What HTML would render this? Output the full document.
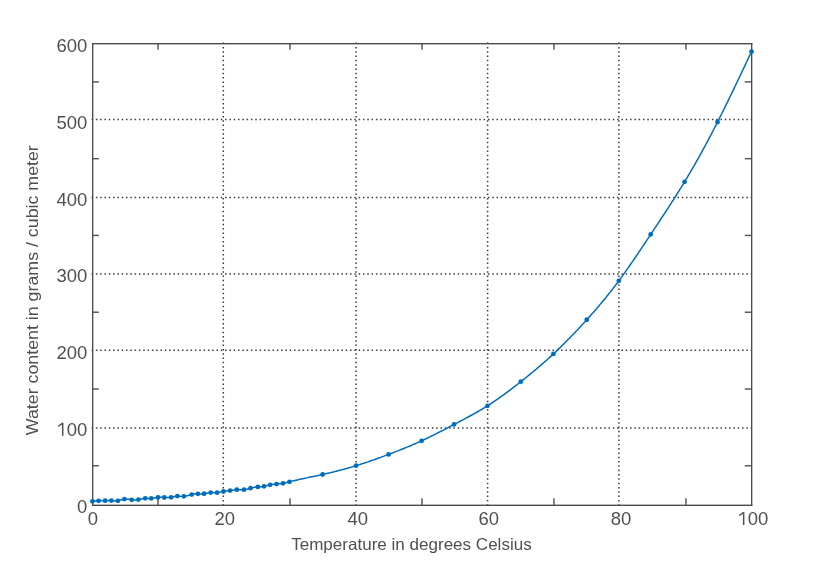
<!DOCTYPE html>
<html><head><meta charset="utf-8"><style>html,body{margin:0;padding:0;background:#fff;width:828px;height:580px;overflow:hidden}svg{display:block;will-change:transform}</style></head>
<body><svg width="828" height="580" viewBox="0 0 828 580">
<rect width="828" height="580" fill="#fff"/>
<line x1="223.3" y1="42.600" x2="223.3" y2="505" stroke="#3c3c3c" stroke-width="1.5" stroke-dasharray="1.5 2.814"/>
<line x1="356.1" y1="42.600" x2="356.1" y2="505" stroke="#3c3c3c" stroke-width="1.5" stroke-dasharray="1.5 2.814"/>
<line x1="487.6" y1="42.600" x2="487.6" y2="505" stroke="#3c3c3c" stroke-width="1.5" stroke-dasharray="1.5 2.814"/>
<line x1="618.9" y1="42.600" x2="618.9" y2="505" stroke="#3c3c3c" stroke-width="1.5" stroke-dasharray="1.5 2.814"/>
<line x1="91.550" y1="119.5" x2="752" y2="119.5" stroke="#3c3c3c" stroke-width="1.5" stroke-dasharray="1.5 2.808"/>
<line x1="91.550" y1="197.4" x2="752" y2="197.4" stroke="#3c3c3c" stroke-width="1.5" stroke-dasharray="1.5 2.808"/>
<line x1="91.550" y1="274.0" x2="752" y2="274.0" stroke="#3c3c3c" stroke-width="1.5" stroke-dasharray="1.5 2.808"/>
<line x1="91.550" y1="350.2" x2="752" y2="350.2" stroke="#3c3c3c" stroke-width="1.5" stroke-dasharray="1.5 2.808"/>
<line x1="91.550" y1="428.0" x2="752" y2="428.0" stroke="#3c3c3c" stroke-width="1.5" stroke-dasharray="1.5 2.808"/>
<line x1="158.05" y1="505" x2="158.05" y2="498.2" stroke="#555555" stroke-width="1.45"/>
<line x1="158.05" y1="43.5" x2="158.05" y2="49.8" stroke="#555555" stroke-width="1.45"/>
<line x1="290.02" y1="505" x2="290.02" y2="498.2" stroke="#555555" stroke-width="1.45"/>
<line x1="290.02" y1="43.5" x2="290.02" y2="49.8" stroke="#555555" stroke-width="1.45"/>
<line x1="421.99" y1="505" x2="421.99" y2="498.2" stroke="#555555" stroke-width="1.45"/>
<line x1="421.99" y1="43.5" x2="421.99" y2="49.8" stroke="#555555" stroke-width="1.45"/>
<line x1="553.96" y1="505" x2="553.96" y2="498.2" stroke="#555555" stroke-width="1.45"/>
<line x1="553.96" y1="43.5" x2="553.96" y2="49.8" stroke="#555555" stroke-width="1.45"/>
<line x1="685.93" y1="505" x2="685.93" y2="498.2" stroke="#555555" stroke-width="1.45"/>
<line x1="685.93" y1="43.5" x2="685.93" y2="49.8" stroke="#555555" stroke-width="1.45"/>
<line x1="92.5" y1="465.76" x2="98.9" y2="465.76" stroke="#555555" stroke-width="1.45"/>
<line x1="751.5" y1="465.76" x2="744.7" y2="465.76" stroke="#555555" stroke-width="1.45"/>
<line x1="92.5" y1="389.00" x2="98.9" y2="389.00" stroke="#555555" stroke-width="1.45"/>
<line x1="751.5" y1="389.00" x2="744.7" y2="389.00" stroke="#555555" stroke-width="1.45"/>
<line x1="92.5" y1="312.22" x2="98.9" y2="312.22" stroke="#555555" stroke-width="1.45"/>
<line x1="751.5" y1="312.22" x2="744.7" y2="312.22" stroke="#555555" stroke-width="1.45"/>
<line x1="92.5" y1="235.45" x2="98.9" y2="235.45" stroke="#555555" stroke-width="1.45"/>
<line x1="751.5" y1="235.45" x2="744.7" y2="235.45" stroke="#555555" stroke-width="1.45"/>
<line x1="92.5" y1="158.68" x2="98.9" y2="158.68" stroke="#555555" stroke-width="1.45"/>
<line x1="751.5" y1="158.68" x2="744.7" y2="158.68" stroke="#555555" stroke-width="1.45"/>
<line x1="92.5" y1="81.91" x2="98.9" y2="81.91" stroke="#555555" stroke-width="1.45"/>
<line x1="751.5" y1="81.91" x2="744.7" y2="81.91" stroke="#555555" stroke-width="1.45"/>
<g fill="#4b4b4b">
<rect x="92" y="43" width="660.35" height="1.4"/>
<rect x="92" y="504.6" width="660.35" height="1.4"/>
<rect x="92" y="43" width="1.35" height="463"/>
<rect x="751" y="43" width="1.35" height="463"/>
</g>
<polyline points="92.45,501.31 93.63,501.18 94.82,501.05 96.03,500.94 97.26,500.84 98.53,500.78 99.84,500.75 101.17,500.74 102.51,500.74 103.84,500.73 105.14,500.70 106.41,500.65 107.65,500.58 108.87,500.53 110.11,500.51 111.36,500.55 112.64,500.65 113.95,500.78 115.27,500.89 116.59,500.90 117.90,500.78 119.19,500.49 120.47,500.09 121.76,499.66 123.09,499.29 124.45,499.05 125.87,499.01 127.33,499.13 128.80,499.33 130.27,499.57 131.70,499.78 133.09,499.90 134.44,499.93 135.77,499.88 137.10,499.75 138.45,499.55 139.83,499.29 141.22,499.00 142.60,498.73 143.95,498.50 145.25,498.35 146.48,498.31 147.67,498.34 148.85,498.39 150.03,498.43 151.27,498.39 152.57,498.25 153.92,498.04 155.29,497.79 156.66,497.56 158.00,497.39 159.29,497.31 160.54,497.31 161.78,497.36 163.02,497.44 164.30,497.52 165.62,497.58 166.98,497.61 168.35,497.58 169.71,497.49 171.06,497.31 172.37,497.04 173.65,496.73 174.90,496.43 176.14,496.18 177.36,496.05 178.58,496.06 179.82,496.17 181.10,496.30 182.45,496.38 183.88,496.35 185.41,496.15 187.01,495.82 188.62,495.42 190.20,495.00 191.70,494.61 193.08,494.31 194.36,494.08 195.58,493.94 196.76,493.85 197.93,493.83 199.12,493.85 200.34,493.88 201.57,493.90 202.83,493.87 204.10,493.75 205.39,493.53 206.69,493.25 208.00,492.96 209.31,492.71 210.62,492.55 211.92,492.52 213.22,492.57 214.50,492.65 215.79,492.72 217.06,492.70 218.33,492.56 219.60,492.33 220.87,492.05 222.15,491.75 223.45,491.48 224.77,491.26 226.10,491.09 227.44,490.94 228.77,490.79 230.10,490.61 231.42,490.39 232.73,490.15 234.06,489.93 235.41,489.74 236.80,489.63 238.24,489.61 239.70,489.64 241.17,489.69 242.61,489.71 244.00,489.65 245.33,489.49 246.61,489.24 247.89,488.92 249.18,488.57 250.53,488.22 251.95,487.88 253.43,487.58 254.92,487.31 256.39,487.09 257.80,486.92 259.13,486.81 260.39,486.72 261.61,486.64 262.81,486.52 264.00,486.35 265.21,486.10 266.44,485.79 267.69,485.45 268.94,485.12 270.19,484.83 271.44,484.60 272.69,484.43 273.95,484.30 275.21,484.19 276.49,484.09 277.78,483.98 279.08,483.85 280.39,483.71 281.70,483.53 283.01,483.31 284.32,483.05 285.62,482.76 286.92,482.44 288.23,482.11 289.53,481.78 290.83,481.45 292.14,481.13 293.45,480.81 294.76,480.50 296.07,480.20 297.39,479.90 298.70,479.60 300.02,479.31 301.34,479.02 302.66,478.74 303.98,478.45 305.30,478.17 306.63,477.89 307.96,477.61 309.28,477.34 310.61,477.06 311.94,476.78 313.28,476.50 314.61,476.22 315.95,475.94 317.28,475.66 318.62,475.37 319.96,475.08 321.30,474.79 322.64,474.49 323.98,474.19 325.33,473.88 326.67,473.57 328.01,473.26 329.36,472.94 330.70,472.62 332.05,472.29 333.39,471.96 334.74,471.63 336.08,471.29 337.43,470.94 338.77,470.60 340.11,470.24 341.45,469.89 342.79,469.53 344.13,469.16 345.47,468.80 346.80,468.42 348.13,468.05 349.46,467.67 350.79,467.28 352.11,466.89 353.44,466.50 354.75,466.10 356.07,465.70 357.38,465.29 358.69,464.89 360.00,464.47 361.30,464.06 362.61,463.63 363.90,463.21 365.20,462.78 366.50,462.35 367.80,461.91 369.09,461.47 370.38,461.03 371.68,460.58 372.97,460.13 374.26,459.67 375.56,459.21 376.85,458.75 378.14,458.29 379.44,457.82 380.74,457.34 382.03,456.87 383.34,456.39 384.64,455.90 385.94,455.41 387.25,454.92 388.56,454.43 389.87,453.93 391.19,453.43 392.51,452.93 393.83,452.42 395.15,451.91 396.48,451.39 397.80,450.87 399.13,450.35 400.46,449.82 401.79,449.29 403.12,448.75 404.45,448.21 405.78,447.67 407.11,447.12 408.44,446.57 409.77,446.01 411.10,445.45 412.43,444.88 413.75,444.31 415.08,443.74 416.40,443.15 417.72,442.57 419.03,441.98 420.35,441.38 421.66,440.78 422.97,440.17 424.27,439.56 425.57,438.95 426.87,438.32 428.17,437.70 429.47,437.07 430.76,436.43 432.05,435.79 433.35,435.15 434.64,434.50 435.93,433.85 437.21,433.20 438.50,432.54 439.79,431.88 441.08,431.22 442.37,430.55 443.67,429.88 444.96,429.21 446.25,428.54 447.55,427.86 448.85,427.18 450.15,426.50 451.45,425.82 452.76,425.14 454.07,424.45 455.38,423.76 456.70,423.08 458.02,422.38 459.34,421.69 460.67,421.00 461.99,420.30 463.32,419.59 464.66,418.89 465.99,418.17 467.33,417.46 468.67,416.73 470.01,416.00 471.35,415.27 472.69,414.53 474.03,413.78 475.38,413.02 476.72,412.25 478.07,411.48 479.42,410.69 480.76,409.90 482.11,409.10 483.46,408.29 484.81,407.46 486.15,406.63 487.50,405.78 488.85,404.92 490.19,404.05 491.53,403.17 492.88,402.28 494.22,401.37 495.56,400.46 496.90,399.54 498.24,398.61 499.58,397.66 500.92,396.71 502.25,395.76 503.59,394.79 504.92,393.82 506.25,392.84 507.58,391.85 508.91,390.86 510.24,389.86 511.56,388.85 512.88,387.84 514.20,386.83 515.52,385.81 516.84,384.79 518.16,383.76 519.47,382.73 520.78,381.70 522.09,380.67 523.40,379.63 524.70,378.59 526.00,377.54 527.31,376.49 528.61,375.44 529.91,374.38 531.20,373.32 532.50,372.25 533.80,371.17 535.10,370.09 536.40,369.00 537.70,367.90 539.00,366.79 540.30,365.67 541.60,364.55 542.90,363.41 544.21,362.27 545.51,361.11 546.82,359.95 548.13,358.77 549.44,357.58 550.76,356.37 552.08,355.16 553.40,353.93 554.72,352.69 556.05,351.43 557.38,350.16 558.72,348.88 560.05,347.59 561.39,346.28 562.73,344.97 564.07,343.64 565.41,342.30 566.75,340.95 568.09,339.59 569.43,338.22 570.78,336.84 572.12,335.46 573.46,334.06 574.80,332.66 576.14,331.25 577.48,329.83 578.82,328.41 580.15,326.98 581.48,325.54 582.81,324.10 584.14,322.65 585.46,321.20 586.78,319.74 588.10,318.28 589.41,316.81 590.72,315.34 592.02,313.87 593.33,312.38 594.62,310.89 595.92,309.40 597.21,307.90 598.50,306.39 599.79,304.87 601.08,303.34 602.36,301.81 603.64,300.26 604.92,298.71 606.19,297.14 607.46,295.57 608.73,293.98 610.00,292.38 611.27,290.77 612.54,289.15 613.80,287.52 615.06,285.87 616.32,284.21 617.58,282.53 618.84,280.84 620.10,279.13 621.35,277.41 622.61,275.68 623.87,273.93 625.12,272.17 626.38,270.39 627.63,268.60 628.89,266.80 630.15,264.99 631.41,263.16 632.67,261.32 633.94,259.46 635.20,257.60 636.47,255.72 637.75,253.84 639.02,251.94 640.30,250.03 641.59,248.11 642.87,246.18 644.16,244.24 645.46,242.29 646.76,240.33 648.07,238.36 649.38,236.39 650.70,234.40 652.02,232.41 653.35,230.40 654.69,228.39 656.03,226.37 657.38,224.34 658.72,222.31 660.08,220.26 661.43,218.20 662.79,216.14 664.15,214.07 665.52,211.99 666.88,209.90 668.25,207.80 669.61,205.69 670.98,203.57 672.34,201.44 673.71,199.30 675.07,197.16 676.44,195.00 677.80,192.84 679.16,190.66 680.51,188.48 681.87,186.29 683.21,184.08 684.56,181.87 685.90,179.65 687.24,177.41 688.57,175.17 689.90,172.91 691.23,170.65 692.55,168.37 693.87,166.08 695.19,163.77 696.50,161.45 697.82,159.12 699.13,156.77 700.44,154.40 701.76,152.02 703.07,149.62 704.38,147.21 705.69,144.77 707.00,142.32 708.32,139.85 709.63,137.37 710.95,134.86 712.26,132.33 713.58,129.78 714.91,127.21 716.23,124.62 717.56,122.00 718.89,119.36 720.23,116.70 721.57,114.02 722.91,111.32 724.25,108.60 725.60,105.86 726.95,103.10 728.30,100.33 729.65,97.54 731.01,94.74 732.37,91.92 733.73,89.09 735.09,86.25 736.46,83.40 737.82,80.54 739.19,77.67 740.56,74.79 741.93,71.90 743.30,69.01 744.67,66.11 746.04,63.20 747.41,60.30 748.78,57.39 750.16,54.47 751.53,51.56" fill="none" stroke="#006dbc" stroke-width="1.5" stroke-linejoin="round"/>
<circle cx="92.45" cy="501.31" r="2.4" fill="#006dbc"/>
<circle cx="98.53" cy="500.78" r="2.4" fill="#006dbc"/>
<circle cx="105.14" cy="500.70" r="2.4" fill="#006dbc"/>
<circle cx="111.36" cy="500.55" r="2.4" fill="#006dbc"/>
<circle cx="117.90" cy="500.78" r="2.4" fill="#006dbc"/>
<circle cx="124.45" cy="499.05" r="2.4" fill="#006dbc"/>
<circle cx="131.70" cy="499.78" r="2.4" fill="#006dbc"/>
<circle cx="138.45" cy="499.55" r="2.4" fill="#006dbc"/>
<circle cx="145.25" cy="498.35" r="2.4" fill="#006dbc"/>
<circle cx="151.27" cy="498.39" r="2.4" fill="#006dbc"/>
<circle cx="158.00" cy="497.39" r="2.4" fill="#006dbc"/>
<circle cx="164.30" cy="497.52" r="2.4" fill="#006dbc"/>
<circle cx="171.06" cy="497.31" r="2.4" fill="#006dbc"/>
<circle cx="177.36" cy="496.05" r="2.4" fill="#006dbc"/>
<circle cx="183.88" cy="496.35" r="2.4" fill="#006dbc"/>
<circle cx="191.70" cy="494.61" r="2.4" fill="#006dbc"/>
<circle cx="197.93" cy="493.83" r="2.4" fill="#006dbc"/>
<circle cx="204.10" cy="493.75" r="2.4" fill="#006dbc"/>
<circle cx="210.62" cy="492.55" r="2.4" fill="#006dbc"/>
<circle cx="217.06" cy="492.70" r="2.4" fill="#006dbc"/>
<circle cx="223.45" cy="491.48" r="2.4" fill="#006dbc"/>
<circle cx="230.10" cy="490.61" r="2.4" fill="#006dbc"/>
<circle cx="236.80" cy="489.63" r="2.4" fill="#006dbc"/>
<circle cx="244.00" cy="489.65" r="2.4" fill="#006dbc"/>
<circle cx="250.53" cy="488.22" r="2.4" fill="#006dbc"/>
<circle cx="257.80" cy="486.92" r="2.4" fill="#006dbc"/>
<circle cx="264.00" cy="486.35" r="2.4" fill="#006dbc"/>
<circle cx="270.19" cy="484.83" r="2.4" fill="#006dbc"/>
<circle cx="276.49" cy="484.09" r="2.4" fill="#006dbc"/>
<circle cx="283.01" cy="483.31" r="2.4" fill="#006dbc"/>
<circle cx="289.53" cy="481.78" r="2.4" fill="#006dbc"/>
<circle cx="322.64" cy="474.49" r="2.4" fill="#006dbc"/>
<circle cx="356.07" cy="465.70" r="2.4" fill="#006dbc"/>
<circle cx="388.56" cy="454.43" r="2.4" fill="#006dbc"/>
<circle cx="421.66" cy="440.78" r="2.4" fill="#006dbc"/>
<circle cx="454.07" cy="424.45" r="2.4" fill="#006dbc"/>
<circle cx="487.50" cy="405.78" r="2.4" fill="#006dbc"/>
<circle cx="520.78" cy="381.70" r="2.4" fill="#006dbc"/>
<circle cx="553.40" cy="353.93" r="2.4" fill="#006dbc"/>
<circle cx="586.78" cy="319.74" r="2.4" fill="#006dbc"/>
<circle cx="618.84" cy="280.84" r="2.4" fill="#006dbc"/>
<circle cx="650.70" cy="234.40" r="2.4" fill="#006dbc"/>
<circle cx="684.56" cy="181.87" r="2.4" fill="#006dbc"/>
<circle cx="717.56" cy="122.00" r="2.4" fill="#006dbc"/>
<circle cx="751.53" cy="51.56" r="2.4" fill="#006dbc"/>
<text transform="translate(87.40,52.15) scale(0.97,1)" text-anchor="end" font-family="Liberation Sans" font-size="19.1" fill="#505050">600</text>
<text transform="translate(87.40,128.88) scale(0.97,1)" text-anchor="end" font-family="Liberation Sans" font-size="19.1" fill="#505050">500</text>
<text transform="translate(87.40,205.61) scale(0.97,1)" text-anchor="end" font-family="Liberation Sans" font-size="19.1" fill="#505050">400</text>
<text transform="translate(87.40,282.34) scale(0.97,1)" text-anchor="end" font-family="Liberation Sans" font-size="19.1" fill="#505050">300</text>
<text transform="translate(87.40,359.07) scale(0.97,1)" text-anchor="end" font-family="Liberation Sans" font-size="19.1" fill="#505050">200</text>
<text transform="translate(66.80,435.80) scale(0.97,1)" font-family="Liberation Sans" font-size="19.1" fill="#505050">00</text><rect x="61.95" y="422.85" width="1.5" height="12.95" fill="#505050"/><path d="M62.90,422.85 L61.95,422.85 L58.10,425.50 L58.40,426.90 L61.95,424.50 Z" fill="#505050"/>
<text transform="translate(87.40,512.53) scale(0.97,1)" text-anchor="end" font-family="Liberation Sans" font-size="19.1" fill="#505050">0</text>
<text transform="translate(92.90,525.06) scale(0.97,1)" text-anchor="middle" font-family="Liberation Sans" font-size="19.1" fill="#505050">0</text>
<text transform="translate(224.70,525.06) scale(0.97,1)" text-anchor="middle" font-family="Liberation Sans" font-size="19.1" fill="#505050">20</text>
<text transform="translate(357.80,525.06) scale(0.97,1)" text-anchor="middle" font-family="Liberation Sans" font-size="19.1" fill="#505050">40</text>
<text transform="translate(488.85,525.06) scale(0.97,1)" text-anchor="middle" font-family="Liberation Sans" font-size="19.1" fill="#505050">60</text>
<text transform="translate(621.00,525.06) scale(0.97,1)" text-anchor="middle" font-family="Liberation Sans" font-size="19.1" fill="#505050">80</text>
<text transform="translate(747.75,525.06) scale(0.97,1)" font-family="Liberation Sans" font-size="19.1" fill="#505050">00</text><rect x="742.90" y="512.11" width="1.5" height="12.95" fill="#505050"/><path d="M743.85,512.11 L742.90,512.11 L739.05,514.76 L739.35,516.16 L742.90,513.76 Z" fill="#505050"/>
<text x="291.2" y="550" font-family="Liberation Sans" font-size="16.5" fill="#505050" textLength="240.5" lengthAdjust="spacingAndGlyphs">Temperature in degrees Celsius</text>
<text transform="translate(37.8,435.2) rotate(-90)" x="0" y="0" font-family="Liberation Sans" font-size="16.5" fill="#505050" textLength="290" lengthAdjust="spacingAndGlyphs">Water content in grams / cubic meter</text>
</svg></body></html>
